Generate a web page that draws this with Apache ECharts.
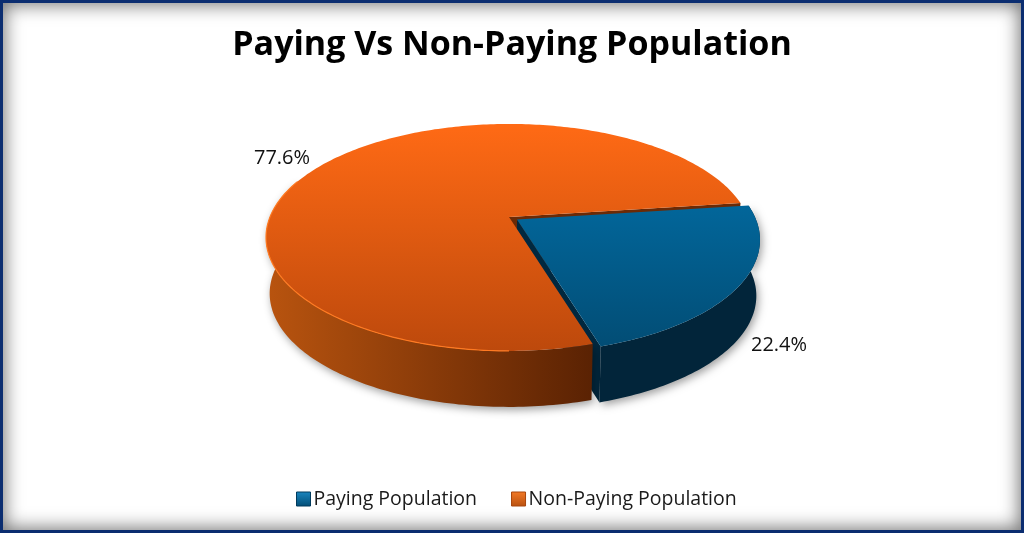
<!DOCTYPE html>
<html><head><meta charset="utf-8">
<style>
html,body{margin:0;padding:0;background:#fff;overflow:hidden}
#frame{position:absolute;left:0;top:0;width:1024px;height:533px;box-sizing:border-box;border:3px solid #0b2d70;box-shadow:inset 0 0 18px 2px rgba(0,0,0,.55);}
#chart{position:absolute;left:0;top:0;width:1024px;height:533px}
</style>
<script src="https://cdn.jsdelivr.net/npm/echarts@6/dist/echarts.min.js"></script>
</head><body>
<div id="frame"></div><div id="chart"></div>
<script>
const titleText = 'Paying Vs Non-Paying Population';
const categories = ['Paying Population', 'Non-Paying Population'];
const values = [22.4, 77.6];

// Drawing set-up only: projection of a tilted disc and per-slice styling
const disc = {cx:509, cy:217, C:239, A:109.8, k:-0.18, depth:56, bottomScale:0.985, startDeg:-7.5};
const looks = [
  {offset:[8,2.5], top:['#02669a','#024d75'], wall:['#02253a','#011f2e'], cut:'#01283f', label:[779,345], rim:null},
  {offset:[0,0], top:['#ff6a15','#bd490c'], wall:['#b9540f','#5a2203'], cut:'#6b2a06', label:[282,158], rim:'#ff7a22'}
];
function pt(deg,off){
  const t=deg*Math.PI/180, x=Math.cos(t), y=Math.sin(t), d=1+disc.k*y;
  return [disc.cx+disc.C*x/d+off[0], disc.cy+disc.A*y/d+off[1]];
}
function down(p,off){
  return [disc.cx+off[0]+(p[0]-disc.cx-off[0])*disc.bottomScale, p[1]+disc.depth];
}
function sliceAngles(i){
  const total=values.reduce((a,b)=>a+b,0);
  let s=disc.startDeg;
  for(let j=0;j<i;j++) s+=values[j]/total*360;
  return [s,s+values[i]/total*360,values[i]/total];
}
function arc(a,b,off){const out=[];const n=Math.max(2,Math.ceil(Math.abs(b-a)));for(let i=0;i<=n;i++)out.push(pt(a+(b-a)*i/n,off));return out;}
function renderSlice(i){
  return function(){
    const L=looks[i], [a,b,f]=sliceAngles(i), off=L.offset;
    const apex=[disc.cx+off[0],disc.cy+off[1]];
    const rimAll=arc(a,b,off);
    // visible outer wall: only the lower half of the disc
    const wa=Math.max(a,-20), wb=Math.min(b,200);
    const rimW=arc(wa,wb,off);
    const wallPts=rimW.concat(rimW.slice().reverse().map(p=>down(p,off)));
    const cutEdge=pt(b,off);
    const cutPts=[apex,cutEdge,down(cutEdge,off),[apex[0],apex[1]+disc.depth]];
    const kids=[
      {type:'polygon',z2:i===0?3:1,shape:{points:cutPts},style:{fill:L.cut}},
      {type:'polygon',z2:i===0?6:4,shape:{points:wallPts},
        style:{fill:i===0?L.wall[0]:new echarts.graphic.LinearGradient(0,0,1,0,[{offset:0,color:L.wall[0]},{offset:1,color:L.wall[1]}]),
               shadowBlur:8,shadowOffsetX:2,shadowOffsetY:3,shadowColor:'rgba(0,0,0,.38)'}},
      {type:'polygon',z2:i===0?8:7,shape:{points:[apex].concat(rimAll)},
        style:{fill:new echarts.graphic.LinearGradient(0,0,0,1,[{offset:0,color:L.top[0]},{offset:1,color:L.top[1]}])}},
      {type:'text',z2:20,x:L.label[0],y:L.label[1],
        style:{text:values[i].toFixed(1)+'%',fill:'#111',font:'20px "Open Sans", sans-serif',align:'center',verticalAlign:'middle'}}
    ];
    if(L.rim){
      kids.push({type:'polyline',z2:7.5,shape:{points:arc(Math.max(a,90),Math.min(b,200),off)},style:{stroke:L.rim,lineWidth:1.2,fill:'none'}});
    }
    return {type:'group',children:kids};
  };
}
const chart=echarts.init(document.getElementById('chart'),null,{renderer:'canvas'});
chart.setOption({
  animation:false,
  backgroundColor:'transparent',
  title:{text:titleText,left:'center',top:23,textStyle:{fontFamily:'"Open Sans"',fontWeight:'bold',fontSize:34,color:'#000'}},
  legend:{
    left:291,top:484,itemWidth:14,itemHeight:14,itemGap:34,
    textStyle:{fontFamily:'"Open Sans"',fontSize:19.5,color:'#1a1a1a',padding:[0,0,0,-2]},
    data:categories.map((name,i)=>({name,icon:'rect',itemStyle:{
      color:new echarts.graphic.LinearGradient(0,0,0,1,[{offset:0,color:i?'#f47a26':'#1a86c0'},{offset:1,color:i?'#b8500f':'#024d75'}]),
      borderColor:i?'#a8460c':'#013a5c',borderWidth:1}}))
  },
  series:categories.map((name,i)=>({
    type:'custom',name,coordinateSystem:'none',silent:true,z:2,
    data:[values[i]],
    itemStyle:{color:looks[i].top[0]},
    renderItem:renderSlice(i)
  }))
});
</script>
</body></html>
